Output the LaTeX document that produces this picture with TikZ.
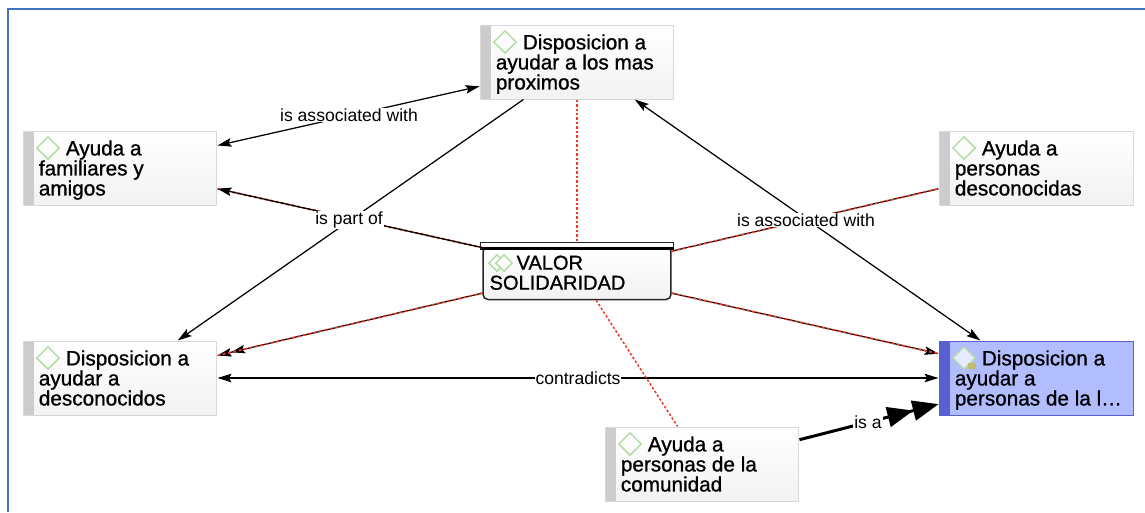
\documentclass[tikz,border=0pt]{standalone}
\usepackage{fontspec}
\setmainfont{Liberation Sans}
\newfontfamily\boxfont[FakeBold=1]{Liberation Sans}
\usetikzlibrary{arrows.meta,shapes.geometric}
\definecolor{framecol}{HTML}{4472C4}
\definecolor{iconcol}{HTML}{B4DCA5}
\definecolor{boxline}{HTML}{D8D8D8}
\definecolor{barcol}{HTML}{CCCCCC}
\definecolor{hotfill}{HTML}{B1BDFF}
\definecolor{hotline}{HTML}{5A5FD2}
\definecolor{dotcol}{HTML}{EC3A24}
\tikzset{
  >={Stealth[length=.28cm,width=.17cm,inset=.05cm]},
  conceptbox/.style={rectangle,draw=boxline,line width=.02cm,top color=white,bottom color=black!5,
    minimum width=3.88cm,minimum height=1.48cm,inner sep=0,
    path picture={\fill[barcol] (path picture bounding box.north west) rectangle
      ([xshift=.22cm]path picture bounding box.south west);}},
  hotbox/.style={rectangle,draw=hotline,line width=.02cm,fill=hotfill,
    minimum width=3.88cm,minimum height=1.48cm,inner sep=0,
    path picture={\fill[hotline] (path picture bounding box.north west) rectangle
      ([xshift=.22cm]path picture bounding box.south west);}},
  boxtext/.style={anchor=north west,inner sep=0,align=left,font=\boxfont\fontsize{11.8}{11.4}\selectfont,xshift=.32cm,yshift=-.19cm},
  icon/.style={diamond,draw=iconcol,line width=.03cm,minimum size=.46cm,inner sep=0},
  linktext/.style={fill=white,inner xsep=.02cm,inner ysep=.01cm,font=\fontsize{10}{12}\selectfont},
  link/.style={black,line width=.025cm},
  redlink/.style={dotcol,line width=.035cm,dash pattern=on .055cm off .055cm}
}
\begin{document}
\begin{tikzpicture}[x=.02cm,y=-.02cm]
  \useasboundingbox (0,0) rectangle (1145,512);
  % Frame
  \coordinate (frame sw) at (8,512);
  \coordinate (frame nw) at (8,9);
  \coordinate (frame ne) at (1145,9);
  \draw[framecol,line width=.04cm] (frame sw) -- (frame nw) -- (frame ne);
  % Boxes
  \node[conceptbox] (proximos) at (577,62) {};
  \node[conceptbox] (familiares) at (120,168) {};
  \node[conceptbox] (extranos) at (1036,168) {};
  \node[conceptbox] (lejanos) at (120,378) {};
  \node[hotbox] (personas) at (1036,378) {};
  \node[conceptbox] (comunidad) at (702,464) {};
  % Core value
  \node[rectangle,rounded corners=.1cm,draw=black!85,line width=.03cm,top color=white,bottom color=black!5,
    minimum width=3.76cm,minimum height=1.06cm,inner sep=0] (valor) at (577,273) {};
  \node[rectangle,draw=black!85,fill=white,line width=.03cm,minimum width=3.86cm,minimum height=.11cm,inner sep=0] (valor top) at (577,245) {};
  \draw[black,line width=.05cm] (valor top.south west) -- (valor top.south east);
  % Lines
  \draw[redlink,line width=.04cm] (valor.165.5) -- (familiares.-12.7);
  \draw[link,<->] (familiares.13) -- (proximos.194);
  \draw[link,->] (proximos.215) -- (lejanos.33);
  \draw[link,<->] (proximos.-33.5) -- (personas.146);
  \draw[link,<->] (lejanos.east) -- (personas.west);
  \draw[link,->] (valor.165.5) -- (familiares.-12.7);
  \draw[link] (valor.13.2) -- (extranos.192.8);
  \draw[link,-{Stealth[length=.28cm,width=.17cm,inset=.05cm]Stealth[length=.28cm,width=.17cm,inset=.05cm]}] (valor.192.7) -- (lejanos.13.8);
  \draw[link,->] (valor.-12.6) -- (personas.166);
  \draw[line width=.06cm,-{Triangle[length=.52cm,width=.4cm]Triangle[length=.52cm,width=.4cm]}] (comunidad.14.9) -- (personas.195.6);
  % Red ones
  \draw[redlink,line width=.03cm,dash pattern=on .05cm off .04cm] (proximos.south) -- (valor top.north);
  \draw[redlink,line width=.03cm,dash pattern=on .05cm off .04cm] (valor.-55) -- (comunidad.123);
  \draw[redlink] (valor.13.2) -- (extranos.192.8);
  \draw[redlink] (valor.192.7) -- (lejanos.13.8);
  \draw[redlink] (valor.-12.6) -- (personas.166);
  % Line labels
  \node[linktext] (assoc left) at (349,115) {is associated with};
  \node[linktext] (part) at (349,220) {is part of};
  \node[linktext] (assoc right) at (806,220) {is associated with};
  \node[linktext] (contra) at (578,378) {contradicts};
  \node[linktext] (isa) at (868,422) {is a};
  % Icons
  \node[icon] (proximos icon) at (505,42) {};
  \node[icon] (familiares icon) at (48,148) {};
  \node[icon] (extranos icon) at (964,148) {};
  \node[icon] (lejanos icon) at (48,358) {};
  \node[icon,fill=white!70!hotfill] (personas icon) at (964,358) {};
  \node[icon] (comunidad icon) at (630,444) {};
  \node[icon,minimum size=.34cm] (valor icon a) at (497,263) {};
  \node[icon,minimum size=.34cm,fill=white] (valor icon b) at (504,263) {};
  \node[rectangle,fill=yellow!60!black!70,minimum width=.16cm,minimum height=.11cm,inner sep=0] (personas note) at (972,366) {};
  % Box texts
  \node[boxtext] (proximos text) at (proximos.north west) {\hspace*{.54cm}Disposicion a\\ayudar a los mas\\proximos};
  \node[boxtext] (familiares text) at (familiares.north west) {\hspace*{.54cm}Ayuda a\\familiares y\\amigos};
  \node[boxtext] (extranos text) at (extranos.north west) {\hspace*{.54cm}Ayuda a\\personas\\desconocidas};
  \node[boxtext] (lejanos text) at (lejanos.north west) {\hspace*{.54cm}Disposicion a\\ayudar a\\desconocidos};
  \node[boxtext] (personas text) at (personas.north west) {\hspace*{.54cm}Disposicion a\\ayudar a\\personas de la l…};
  \node[boxtext] (comunidad text) at (comunidad.north west) {\hspace*{.54cm}Ayuda a\\personas de la\\comunidad};
  \node[boxtext,xshift=-.18cm,font=\boxfont\fontsize{11.4}{11.4}\selectfont] (valor text) at (valor.north west) {\hspace*{.54cm}VALOR\\SOLIDARIDAD};
\end{tikzpicture}
\end{document}
